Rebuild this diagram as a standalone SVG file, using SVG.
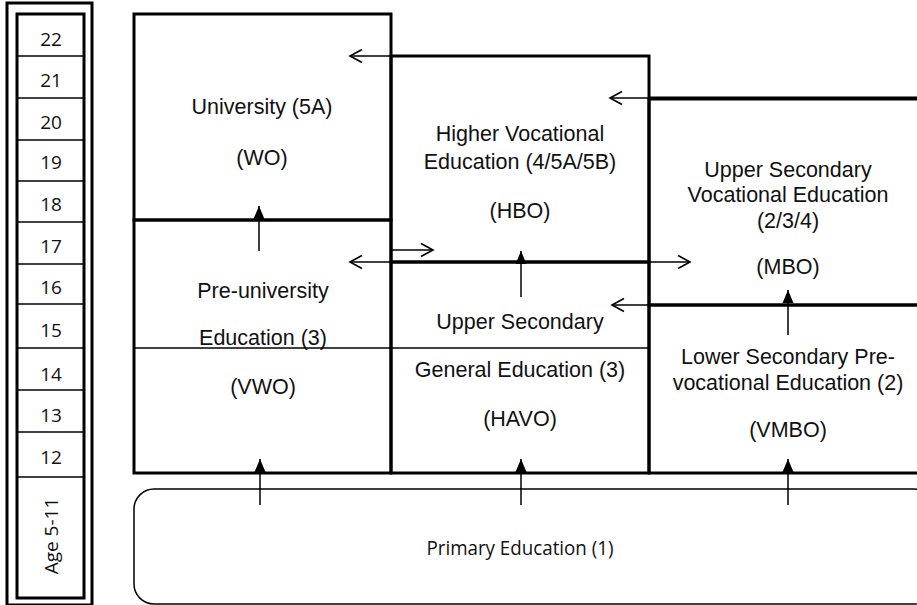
<svg xmlns="http://www.w3.org/2000/svg" width="917" height="605" viewBox="0 0 917 605">
<style>
  .box{fill:none;stroke:#000;stroke-width:3}
  .thin{fill:none;stroke:#000;stroke-width:1.5}
  .lbl{font-family:"Liberation Sans",Arial,sans-serif;font-size:21.5px;fill:#111;text-anchor:middle}
  .age{font-family:"Open Sans","Liberation Sans",sans-serif;font-size:19px;fill:#111;text-anchor:middle}
  .prim{font-family:"Open Sans","Liberation Sans",sans-serif;font-size:20px;fill:#111;text-anchor:middle}
  .open{fill:none;stroke:#000;stroke-width:1.5}
  .fill{stroke:#000;stroke-width:1.5}
</style>
<defs>
  <marker id="openArrow" markerUnits="userSpaceOnUse" markerWidth="16" markerHeight="16" viewBox="0 0 16 16" refX="14" refY="8" orient="auto">
    <path d="M2,1.5 L14,8 L2,14.5" fill="none" stroke="#000" stroke-width="1.6"/>
  </marker>
  <marker id="solidArrow" markerUnits="userSpaceOnUse" markerWidth="14" markerHeight="14" viewBox="0 0 14 14" refX="13" refY="7" orient="auto">
    <path d="M0,1.5 L13,7 L0,12.5 Z" fill="#000"/>
  </marker>
</defs>
<rect width="917" height="605" fill="#fff"/>

<g id="age-column">
  <rect x="7" y="3" width="85" height="602" class="box" stroke-width="2.5"/>
  <rect x="17" y="14" width="67" height="584" class="box" stroke-width="2.5"/>
  <g class="thin" stroke-width="2.5">
    <line x1="17" y1="56" x2="84" y2="56"/>
    <line x1="17" y1="98" x2="84" y2="98"/>
    <line x1="17" y1="140" x2="84" y2="140"/>
    <line x1="17" y1="181" x2="84" y2="181"/>
    <line x1="17" y1="222" x2="84" y2="222"/>
    <line x1="17" y1="264" x2="84" y2="264"/>
    <line x1="17" y1="304" x2="84" y2="304"/>
    <line x1="17" y1="348" x2="84" y2="348"/>
    <line x1="17" y1="390" x2="84" y2="390"/>
    <line x1="17" y1="432" x2="84" y2="432"/>
    <line x1="17" y1="477" x2="84" y2="477"/>
  </g>
  <text class="age" x="51" y="46">22</text>
  <text class="age" x="51" y="87">21</text>
  <text class="age" x="51" y="129">20</text>
  <text class="age" x="51" y="169">19</text>
  <text class="age" x="51" y="211">18</text>
  <text class="age" x="51" y="253">17</text>
  <text class="age" x="51" y="294">16</text>
  <text class="age" x="51" y="337">15</text>
  <text class="age" x="51" y="381">14</text>
  <text class="age" x="51" y="422">13</text>
  <text class="age" x="51" y="464">12</text>
  <text class="age" transform="translate(58,536) rotate(-90)" x="0" y="0">Age 5-11</text>
</g>

<g id="university">
  <rect x="134" y="14" width="257" height="206" class="box"/>
  <text class="lbl" x="262" y="114">University (5A)</text>
  <text class="lbl" x="262" y="165">(WO)</text>
</g>

<g id="pre-university">
  <rect x="134" y="220" width="257" height="253" class="box"/>
  <text class="lbl" x="263" y="298">Pre-university</text>
  <text class="lbl" x="263" y="345">Education (3)</text>
  <text class="lbl" x="263" y="394">(VWO)</text>
</g>

<g id="hbo">
  <rect x="391" y="56" width="258" height="206" class="box"/>
  <text class="lbl" x="520" y="141">Higher Vocational</text>
  <text class="lbl" x="520" y="169">Education (4/5A/5B)</text>
  <text class="lbl" x="520" y="218">(HBO)</text>
</g>

<g id="havo">
  <rect x="391" y="262" width="258" height="211" class="box"/>
  <text class="lbl" x="520" y="329">Upper Secondary</text>
  <text class="lbl" x="520" y="377">General Education (3)</text>
  <text class="lbl" x="520" y="426">(HAVO)</text>
</g>

<line id="divider-15" x1="134" y1="348" x2="649" y2="348" class="thin"/>

<g id="mbo">
  <rect x="649" y="99" width="280" height="206" class="box"/>
  <text class="lbl" x="788" y="177">Upper Secondary</text>
  <text class="lbl" x="788" y="202">Vocational Education</text>
  <text class="lbl" x="788" y="228">(2/3/4)</text>
  <text class="lbl" x="788" y="274">(MBO)</text>
</g>

<g id="vmbo">
  <rect x="649" y="305" width="280" height="168" class="box"/>
  <text class="lbl" x="788" y="364">Lower Secondary Pre-</text>
  <text class="lbl" x="788" y="390">vocational Education (2)</text>
  <text class="lbl" x="788" y="437">(VMBO)</text>
</g>

<g id="primary">
  <rect x="134" y="489" width="800" height="115" rx="20" ry="20" class="thin" stroke-width="1.8"/>
  <text class="prim" x="520" y="555" textLength="187" lengthAdjust="spacingAndGlyphs">Primary Education (1)</text>
</g>

<g id="connectors">
  <line x1="391" y1="56" x2="350" y2="56" class="open" marker-end="url(#openArrow)"/>
  <line x1="649" y1="98" x2="610" y2="98" class="open" marker-end="url(#openArrow)"/>
  <line x1="391" y1="262" x2="350" y2="262" class="open" marker-end="url(#openArrow)"/>
  <line x1="391" y1="250" x2="433" y2="250" class="open" marker-end="url(#openArrow)"/>
  <line x1="649" y1="262" x2="690" y2="262" class="open" marker-end="url(#openArrow)"/>
  <line x1="649" y1="305" x2="612" y2="305" class="open" marker-end="url(#openArrow)"/>
  <line x1="917" y1="98" x2="649" y2="98" class="box"/>
  <line x1="259" y1="251" x2="259" y2="206" class="fill" marker-end="url(#solidArrow)"/>
  <line x1="521" y1="297" x2="521" y2="251" class="fill" marker-end="url(#solidArrow)"/>
  <line x1="788" y1="335" x2="788" y2="290" class="fill" marker-end="url(#solidArrow)"/>
  <line x1="260" y1="505" x2="260" y2="459" class="fill" marker-end="url(#solidArrow)"/>
  <line x1="521" y1="505" x2="521" y2="459" class="fill" marker-end="url(#solidArrow)"/>
  <line x1="788" y1="505" x2="788" y2="459" class="fill" marker-end="url(#solidArrow)"/>
</g>
</svg>
